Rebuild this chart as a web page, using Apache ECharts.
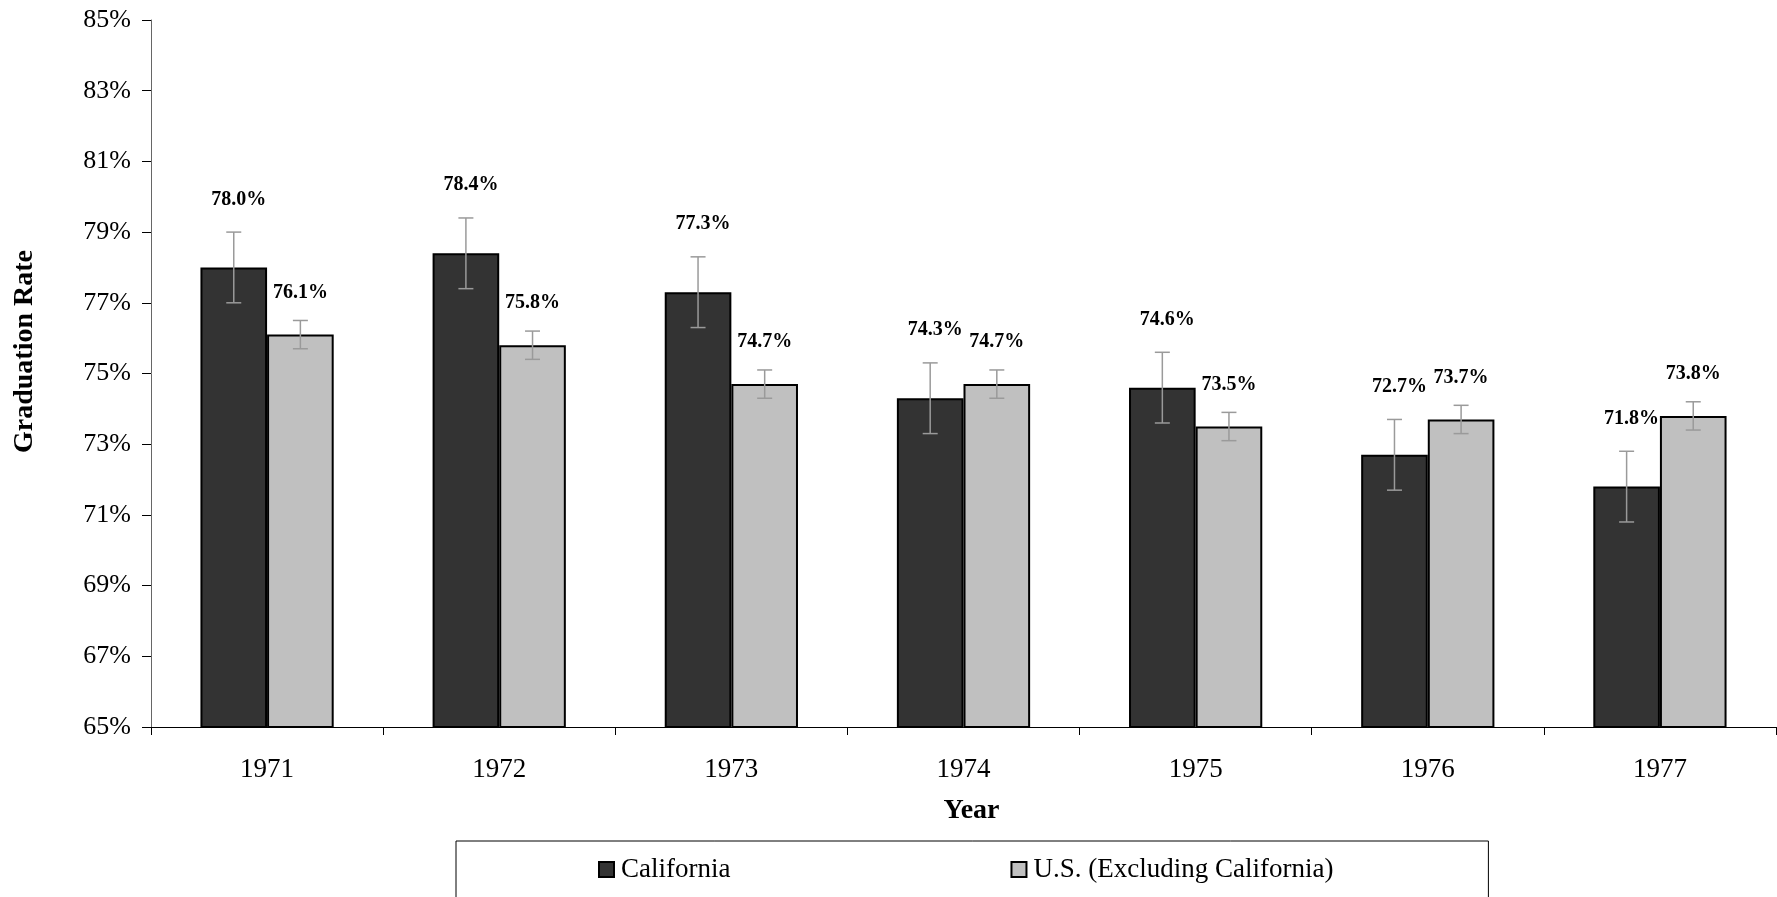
<!DOCTYPE html>
<html>
<head>
<meta charset="utf-8">
<script src="https://cdn.jsdelivr.net/npm/echarts@6/dist/echarts.min.js"></script>
<style>
html,body{margin:0;padding:0;background:#fff;}
#chart{width:1777px;height:897px;}
</style>
</head>
<body>
<div id="chart"></div>
<script>
const years = ['1971','1972','1973','1974','1975','1976','1977'];
const california = [78.0, 78.4, 77.3, 74.3, 74.6, 72.7, 71.8];
const usExCA = [76.1, 75.8, 74.7, 74.7, 73.5, 73.7, 73.8];
const caErr = [1.0, 1.0, 1.0, 1.0, 1.0, 1.0, 1.0];
const usErr = [0.4, 0.4, 0.4, 0.4, 0.4, 0.4, 0.4];
const yTicks = [65, 67, 69, 71, 73, 75, 77, 79, 81, 83, 85];

const FONT = '"Liberation Serif", "Times New Roman", serif';
const BARW = 0.287;

function errData(vals, errs) {
  return vals.map((v, i) => [i, v - errs[i], v + errs[i]]);
}
function errRender(side) {
  return function (params, api) {
    const idx = api.value(0);
    const lo = api.coord([idx, api.value(1)]);
    const hi = api.coord([idx, api.value(2)]);
    const band = api.size([1, 0])[0];
    const x = lo[0] + side * band * BARW / 2;
    const cap = 7.5;
    const st = { stroke: '#9a9a9a', lineWidth: 1.5 };
    return {
      type: 'group',
      children: [
        { type: 'line', shape: { x1: x, y1: hi[1], x2: x, y2: lo[1] }, style: st },
        { type: 'line', shape: { x1: x - cap, y1: hi[1], x2: x + cap, y2: hi[1] }, style: st },
        { type: 'line', shape: { x1: x - cap, y1: lo[1], x2: x + cap, y2: lo[1] }, style: st }
      ]
    };
  };
}

const chart = echarts.init(document.getElementById('chart'), null, { renderer: 'canvas' });
chart.setOption({
  animation: false,
  backgroundColor: '#fff',
  textStyle: { fontFamily: FONT },
  grid: { left: 151, right: 1, top: 20, bottom: 170, containLabel: false },
  legend: {
    data: ['California', 'U.S. (Excluding California)'],
    left: 456, top: 841,
    padding: [15, 155, 40, 142],
    itemGap: 280,
    itemWidth: 15, itemHeight: 15,
    icon: 'rect',
    borderColor: '#000', borderWidth: 1,
    textStyle: { fontFamily: FONT, fontSize: 27, color: '#000', padding: [0, 0, 0, 2] }
  },
  xAxis: {
    type: 'category',
    data: years,
    name: 'Year',
    nameLocation: 'middle',
    nameGap: 70,
    nameTextStyle: { fontFamily: FONT, fontSize: 28, fontWeight: 'bold', color: '#000', padding: [0, 0, 0, 16] },
    axisLine: { lineStyle: { color: '#000', width: 1 } },
    axisTick: { show: true, length: 8, lineStyle: { color: '#000' } },
    axisLabel: { fontFamily: FONT, fontSize: 27, color: '#000', margin: 29 },
    splitLine: { show: false }
  },
  yAxis: {
    type: 'value',
    min: yTicks[0], max: yTicks[yTicks.length - 1], interval: 2,
    name: 'Graduation Rate',
    nameLocation: 'middle',
    nameGap: 112,
    nameTextStyle: { fontFamily: FONT, fontSize: 28, fontWeight: 'bold', color: '#000', padding: [0, 0, 0, 44] },
    axisLine: { show: true, lineStyle: { color: '#666', width: 1 } },
    axisTick: { show: true, length: 9, lineStyle: { color: '#000' } },
    axisLabel: { fontFamily: FONT, fontSize: 26, color: '#000', margin: 20, formatter: '{value}%' },
    splitLine: { show: false }
  },
  series: [
    {
      name: 'California', type: 'bar', data: california,
      barWidth: (BARW * 100) + '%', barGap: '0%',
      itemStyle: { color: '#333333', borderColor: '#000', borderWidth: 2 },
      label: { show: true, position: 'top', distance: 58, offset: [5, 0], fontFamily: FONT, fontSize: 20, fontWeight: 'bold', color: '#000',
        formatter: p => p.value.toFixed(1) + '%' },
      z: 2
    },
    {
      name: 'U.S. (Excluding California)', type: 'bar', data: usExCA,
      barWidth: (BARW * 100) + '%', barGap: '0%',
      itemStyle: { color: '#c0c0c0', borderColor: '#000', borderWidth: 2 },
      label: { show: true, position: 'top', distance: 32, fontFamily: FONT, fontSize: 20, fontWeight: 'bold', color: '#000',
        formatter: p => p.value.toFixed(1) + '%' },
      z: 2
    },
    {
      name: 'caErr', type: 'custom', data: errData(california, caErr),
      renderItem: errRender(-1), encode: { x: 0, y: [1, 2] }, z: 5, silent: true
    },
    {
      name: 'usErr', type: 'custom', data: errData(usExCA, usErr),
      renderItem: errRender(1), encode: { x: 0, y: [1, 2] }, z: 5, silent: true
    }
  ]
});
</script>
</body>
</html>
